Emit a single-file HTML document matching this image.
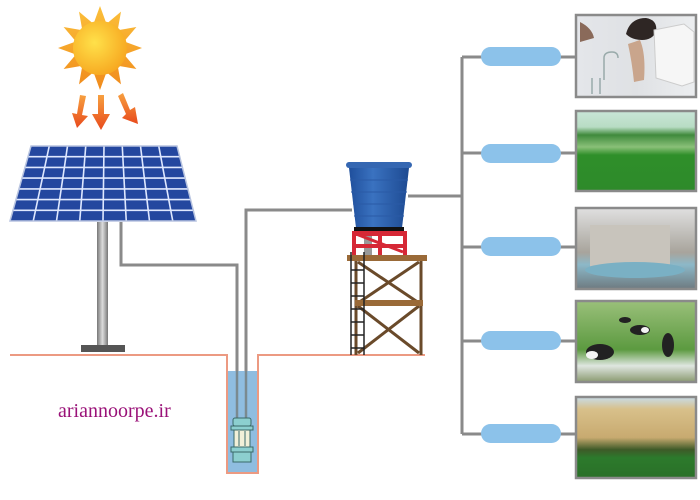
<!DOCTYPE html>
<html><head><meta charset="utf-8"><style>
html,body{margin:0;padding:0;background:#fff;}
svg{display:block;}
</style></head><body>
<svg width="700" height="500" viewBox="0 0 700 500" xmlns="http://www.w3.org/2000/svg">
<defs>
<radialGradient id="sun" cx="0.4" cy="0.4" r="0.7"><stop offset="0" stop-color="#ffe14a"/><stop offset="1" stop-color="#f6a21c"/></radialGradient>
<linearGradient id="ray" x1="0" y1="0" x2="0" y2="1"><stop offset="0" stop-color="#fbc03a"/><stop offset="1" stop-color="#f08a1c"/></linearGradient>
<linearGradient id="arr" x1="0" y1="0" x2="0" y2="1"><stop offset="0" stop-color="#f7a040"/><stop offset="1" stop-color="#e84a1c"/></linearGradient>
<linearGradient id="pole" x1="0" y1="0" x2="1" y2="0"><stop offset="0" stop-color="#777"/><stop offset="0.5" stop-color="#ddd"/><stop offset="1" stop-color="#777"/></linearGradient>
<linearGradient id="tank" x1="0" y1="0" x2="1" y2="0"><stop offset="0" stop-color="#1f4f9c"/><stop offset="0.4" stop-color="#3a72c0"/><stop offset="1" stop-color="#1d4a92"/></linearGradient>
<clipPath id="pc"><polygon points="31,146 177,146 196,221 10,221"/></clipPath>
<linearGradient id="p2" x1="0" y1="0" x2="0" y2="1"><stop offset="0" stop-color="#c9e6d8"/><stop offset="0.2" stop-color="#b8dcc4"/><stop offset="0.3" stop-color="#3f8a3c"/><stop offset="0.45" stop-color="#8ac078"/><stop offset="0.55" stop-color="#2f8f2a"/><stop offset="1" stop-color="#2e8a2a"/></linearGradient>
<linearGradient id="p3" x1="0" y1="0" x2="0" y2="1"><stop offset="0" stop-color="#e0e0e0"/><stop offset="0.55" stop-color="#a8a49c"/><stop offset="0.7" stop-color="#8cb8c8"/><stop offset="1" stop-color="#6e7a80"/></linearGradient>
<linearGradient id="p4" x1="0" y1="0" x2="0" y2="1"><stop offset="0" stop-color="#9ac07a"/><stop offset="0.6" stop-color="#5c9a40"/><stop offset="0.8" stop-color="#dfe6e0"/><stop offset="1" stop-color="#8a9a70"/></linearGradient>
<linearGradient id="p5" x1="0" y1="0" x2="0" y2="1"><stop offset="0" stop-color="#c8dce8"/><stop offset="0.15" stop-color="#d8c08a"/><stop offset="0.5" stop-color="#c8aa70"/><stop offset="0.65" stop-color="#3e5a28"/><stop offset="0.75" stop-color="#2c7a2c"/><stop offset="1" stop-color="#2a7028"/></linearGradient>
<linearGradient id="p1" x1="0" y1="0" x2="1" y2="0"><stop offset="0" stop-color="#e4e6ea"/><stop offset="0.5" stop-color="#dfe1e4"/><stop offset="1" stop-color="#eceef0"/></linearGradient>
</defs>

<polygon fill="url(#ray)" points="142,48 124.1,41.5 136.4,27 117.7,30.3 121,11.6 106.5,23.9 100,6 93.5,23.9 79,11.6 82.3,30.3 63.6,27 75.9,41.5 58,48 75.9,54.5 63.6,69 82.3,65.7 79,84.4 93.5,72.1 100,90 106.5,72.1 121,84.4 117.7,65.7 136.4,69 124.1,54.5"/>
<circle cx="100" cy="48" r="27" fill="url(#sun)"/>
<g fill="url(#arr)">
<polygon points="80,95 86,96 82,115 88,116 77,128 72,113 77,114"/>
<polygon points="98,95 104,95 104,114 110,114 101,130 92,114 98,114"/>
<polygon points="118,96 123,93 130,110 135,107 138,124 122,118 126,114"/>
</g>

<polygon points="31,146 177,146 196,221 10,221" fill="#24479f"/>
<g clip-path="url(#pc)" stroke="#dfe8ff" stroke-width="1.6">
<line x1="49.25" y1="146" x2="33.25" y2="221"/><line x1="67.5" y1="146" x2="56.5" y2="221"/><line x1="85.75" y1="146" x2="79.75" y2="221"/><line x1="104" y1="146" x2="103" y2="221"/><line x1="122.25" y1="146" x2="126.25" y2="221"/><line x1="140.5" y1="146" x2="149.5" y2="221"/><line x1="158.75" y1="146" x2="172.75" y2="221"/>
<line x1="0" y1="156.7" x2="200" y2="156.7"/><line x1="0" y1="167.4" x2="200" y2="167.4"/><line x1="0" y1="178.1" x2="200" y2="178.1"/><line x1="0" y1="188.9" x2="200" y2="188.9"/><line x1="0" y1="199.6" x2="200" y2="199.6"/><line x1="0" y1="210.3" x2="200" y2="210.3"/>
</g>
<polygon points="31,146 177,146 196,221 10,221" fill="none" stroke="#b8c4e0" stroke-width="1.5"/>
<rect x="97" y="222" width="11" height="125" fill="url(#pole)"/>
<rect x="81" y="345" width="44" height="7" fill="#555"/>

<g fill="none" stroke="#8a8a8a" stroke-width="3">
<polyline points="121,222 121,265 237,265 237,435"/>
<polyline points="246,435 246,210 352,210"/>
<polyline points="408,196 462,196"/>
<polyline points="462,57 462,434"/>
<line x1="462" y1="57" x2="576" y2="57"/><line x1="462" y1="153" x2="576" y2="153"/><line x1="462" y1="247" x2="576" y2="247"/><line x1="462" y1="341" x2="576" y2="341"/><line x1="462" y1="434" x2="576" y2="434"/>
</g>

<rect x="228" y="371" width="29" height="102" fill="#8fbde0"/>
<polyline points="10,355 227,355 227,473 258,473 258,355 425,355" fill="none" stroke="#ec9a82" stroke-width="2"/>
<g stroke="#7a8a90" stroke-width="2.5"><line x1="237" y1="371" x2="237" y2="420"/><line x1="246" y1="371" x2="246" y2="420"/></g>
<rect x="233" y="418" width="18" height="8" rx="2" fill="#8ccfcf" stroke="#3a6a6a"/>
<rect x="231" y="426" width="22" height="4" fill="#8ccfcf" stroke="#3a6a6a"/>
<rect x="234" y="430" width="16" height="17" fill="#f2f0d8" stroke="#3a6a6a"/>
<line x1="239" y1="431" x2="239" y2="446" stroke="#3a6a6a"/><line x1="245" y1="431" x2="245" y2="446" stroke="#3a6a6a"/>
<rect x="231" y="447" width="22" height="5" fill="#8ccfcf" stroke="#3a6a6a"/>
<rect x="233" y="452" width="18" height="10" fill="#8ccfcf" stroke="#3a6a6a"/>

<rect x="364" y="231" width="8" height="26" fill="#999"/>
<g fill="#d62836">
<rect x="352" y="231" width="55" height="5"/><rect x="352" y="244" width="55" height="4"/>
<rect x="352" y="231" width="4" height="24"/><rect x="403" y="231" width="4" height="24"/><rect x="378" y="231" width="4" height="24"/>
</g>
<line x1="356" y1="234" x2="403" y2="252" stroke="#d62836" stroke-width="3"/>
<polygon points="349,168 409,168 402,228 356,228" fill="url(#tank)"/>
<g stroke="#2a5aa6" stroke-width="1"><line x1="350" y1="180" x2="408" y2="180"/><line x1="351" y1="192" x2="407" y2="192"/><line x1="353" y1="204" x2="405" y2="204"/><line x1="354" y1="216" x2="404" y2="216"/></g>
<rect x="346" y="162" width="66" height="6" rx="3" fill="#3567b2"/>
<rect x="354" y="227" width="50" height="4" fill="#111"/>
<g stroke="#6a4a2a" stroke-width="3">
<line x1="356" y1="261" x2="356" y2="355"/><line x1="421" y1="261" x2="421" y2="355"/>
<line x1="358" y1="262" x2="419" y2="303"/><line x1="419" y1="262" x2="358" y2="303"/>
<line x1="358" y1="306" x2="419" y2="353"/><line x1="419" y1="306" x2="358" y2="353"/>
</g>
<rect x="347" y="255" width="80" height="6" fill="#9a6a38"/>
<rect x="355" y="300" width="68" height="6" fill="#9a6a38"/>
<g stroke="#222" stroke-width="1.5"><line x1="351" y1="252" x2="351" y2="355"/><line x1="364" y1="252" x2="364" y2="355"/>
<line x1="351" y1="270" x2="364" y2="270"/><line x1="351" y1="283" x2="364" y2="283"/><line x1="351" y1="296" x2="364" y2="296"/><line x1="351" y1="309" x2="364" y2="309"/><line x1="351" y1="322" x2="364" y2="322"/><line x1="351" y1="335" x2="364" y2="335"/><line x1="351" y1="348" x2="364" y2="348"/></g>

<g fill="#8cc2ea">
<rect x="481" y="47" width="80" height="19" rx="9.5"/><rect x="481" y="144" width="80" height="19" rx="9.5"/><rect x="481" y="237" width="80" height="19" rx="9.5"/><rect x="481" y="331" width="80" height="19" rx="9.5"/><rect x="481" y="424" width="80" height="19" rx="9.5"/>
</g>

<g stroke="#8a8a8a" stroke-width="2.5">
<rect x="576" y="15" width="120" height="82" fill="url(#p1)"/>
<rect x="576" y="111" width="120" height="80" fill="url(#p2)"/>
<rect x="576" y="208" width="120" height="81" fill="url(#p3)"/>
<rect x="576" y="301" width="120" height="81" fill="url(#p4)"/>
<rect x="576" y="397" width="120" height="81" fill="url(#p5)"/>
</g>
<!-- woman photo -->
<path d="M626,34 q4,-16 20,-16 q12,2 10,14 q-4,8 -14,8 q-10,0 -16,-6z" fill="#2e2624"/>
<path d="M654,30 l30,-6 l10,8 l0,50 l-12,4 l-26,-8 z" fill="#f6f6f6" stroke="#ccc"/>
<path d="M640,40 q6,14 4,40 l-10,2 q-2,-20 -6,-38z" fill="#c9a58c"/>
<path d="M580,22 q12,6 14,16 l-14,4z" fill="#8a6a5a"/>
<g stroke="#9aa" stroke-width="1.5" fill="none"><path d="M604,80 v-22 q0,-6 8,-6 q6,0 6,6"/><line x1="592" y1="78" x2="592" y2="94"/><line x1="600" y1="78" x2="600" y2="94"/></g>
<!-- others -->
<path d="M590,225 h80 v45 h-80z" fill="#c8c4bc"/>
<ellipse cx="635" cy="270" rx="50" ry="8" fill="#7ab0c4"/>
<g fill="#222"><ellipse cx="600" cy="352" rx="14" ry="8"/><ellipse cx="640" cy="330" rx="10" ry="5"/><ellipse cx="668" cy="345" rx="6" ry="12"/><ellipse cx="625" cy="320" rx="6" ry="3"/></g>
<g fill="#f4f4f4"><ellipse cx="592" cy="355" rx="6" ry="4"/><ellipse cx="645" cy="330" rx="4" ry="3"/></g>

<text x="58" y="417" font-family="Liberation Serif, serif" font-size="20" fill="#9a1278">ariannoorpe.ir</text>
</svg>
</body></html>
